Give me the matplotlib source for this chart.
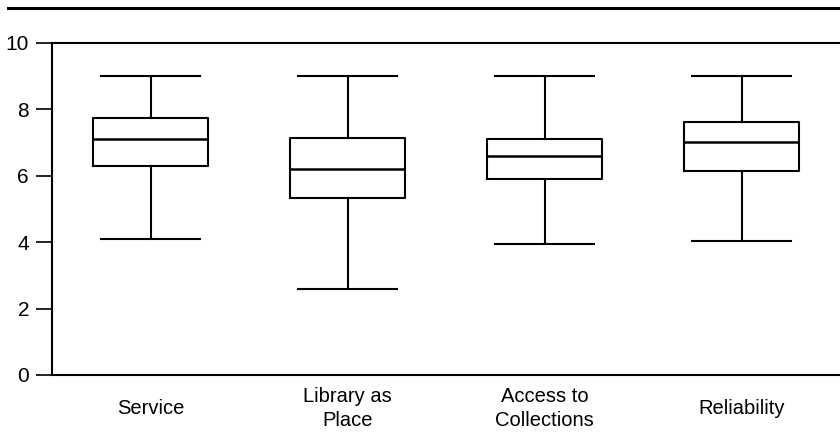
import matplotlib
matplotlib.use("Agg")
import matplotlib.pyplot as plt
from matplotlib.lines import Line2D

plt.rcParams['font.family'] = ['Liberation Sans', 'DejaVu Sans']

categories = ["Service", "Library as\nPlace", "Access to\nCollections", "Reliability"]
whisker_low = [4.11, 2.6, 3.95, 4.05]
q1 = [6.30, 5.32, 5.90, 6.15]
medians = [7.10, 6.20, 6.59, 7.01]
q3 = [7.75, 7.15, 7.11, 7.63]
whisker_high = [9.0, 9.0, 9.0, 9.0]
yticks = [0, 2, 4, 6, 8, 10]

fig = plt.figure(figsize=(8.4, 4.33), dpi=100)
ax = fig.add_axes([52/840, 1 - 375/433, 788/840, (375-43)/433])

stats = []
for i, name in enumerate(categories):
    stats.append(dict(label=name, whislo=whisker_low[i], q1=q1[i], med=medians[i],
                      q3=q3[i], whishi=whisker_high[i], fliers=[]))

lw = 1.5
ax.bxp(stats, positions=range(len(categories)), widths=0.58, showfliers=False,
       boxprops=dict(color='black', linewidth=lw),
       medianprops=dict(color='black', linewidth=lw + 0.3),
       whiskerprops=dict(color='black', linewidth=lw),
       capprops=dict(color='black', linewidth=lw),
       capwidths=0.5)

ax.set_xlim(-0.5, 3.5)
ax.set_ylim(0, 10)
ax.set_yticks(yticks)
ax.set_xticks(range(len(categories)))
ax.set_xticklabels(categories, va='center', fontsize=14.5, linespacing=1.3)
ax.tick_params(axis='x', length=0, pad=24)
ax.tick_params(axis='y', length=11.5, width=1.2, labelsize=15, pad=5, direction='out')

for s in ['left', 'bottom', 'top']:
    ax.spines[s].set_linewidth(1.5)
ax.spines['right'].set_visible(False)

fig.add_artist(Line2D([8/840, 1.0], [1 - 8/433, 1 - 8/433], color='black', linewidth=2.2,
                      transform=fig.transFigure))

fig.savefig("out.png", dpi=100)
